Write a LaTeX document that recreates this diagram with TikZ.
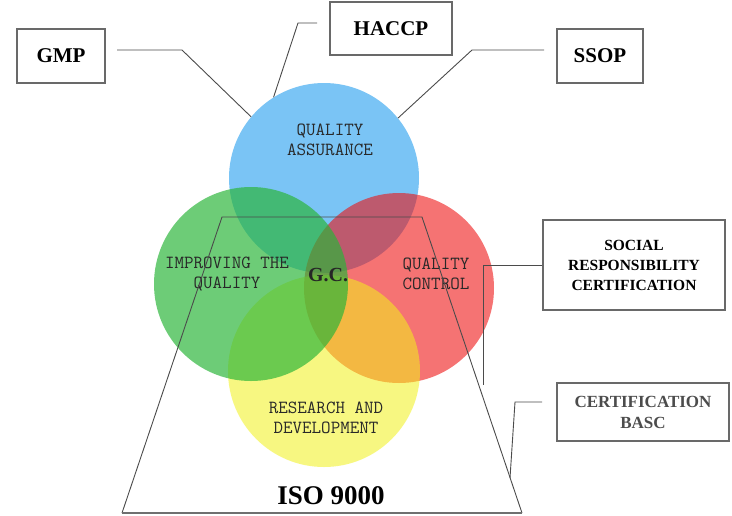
\documentclass[tikz,border=0pt]{standalone}
\usepackage{fontspec}
\setmainfont{Liberation Serif}
\newfontfamily\monofam{Latin Modern Mono}
\definecolor{cblue}{RGB}{122,196,245}
\definecolor{cred}{RGB}{238,14,14}
\definecolor{cyellow}{RGB}{242,242,27}
\definecolor{cgreen}{RGB}{41,181,56}
\definecolor{linegray}{RGB}{75,75,75}
\definecolor{boxgray}{RGB}{105,105,105}
\definecolor{labgray}{RGB}{40,40,40}
\tikzset{
  venn/.style={circle, inner sep=0pt, draw=none},
  box/.style={draw=boxgray, line width=1.2pt, inner sep=0pt, align=center, font=\bfseries},
  conn/.style={draw=linegray, line width=0.9pt},
  trap/.style={draw=linegray, line width=0.9pt},
  vlabel/.style={font=\monofam\fontsize{18.5}{20}\selectfont, text=labgray, align=center, inner sep=0pt},
}
\begin{document}
\begin{tikzpicture}[x=1pt,y=-1pt]
\useasboundingbox (0,0) rectangle (732,515);
\fill[white] (0,0) rectangle (732,515);
% circles
\node[venn, minimum size=190pt, fill=cblue] (qa) at (324,178) {};
\node[venn, minimum size=190pt, fill=cred, fill opacity=0.58] (qc) at (399,288) {};
\node[venn, minimum size=192pt, fill=cyellow, fill opacity=0.55] (rd) at (324,371) {};
\node[venn, minimum size=194pt, fill=cgreen, fill opacity=0.68] (iq) at (251,284) {};
% labels
\node[vlabel] (qal) at (330,140) {QUALITY\\ASSURANCE};
\node[vlabel] (iql) at (227,274) {IMPROVING THE\\QUALITY};
\node[vlabel] (qcl) at (436,274) {QUALITY\\CONTROL};
\node[vlabel] (rdl) at (326,418) {RESEARCH AND\\DEVELOPMENT};
\node[font=\bfseries\fontsize{20}{22}\selectfont, text=black!85, inner sep=0pt] (gc) at (328,275) {G.C.};
% trapezoid
\coordinate (t1) at (222,217);
\coordinate (t2) at (422,217);
\coordinate (t3) at (522,513);
\coordinate (t4) at (122,513);
\draw[trap] (t4) -- (t1) -- (t2) -- (t3);
\draw[draw=linegray!80, line width=1.6pt] (t4) -- (t3);
\node[font=\bfseries\fontsize{27}{30}\selectfont, inner sep=0pt] (iso) at (331,496) {ISO 9000};
% boxes
\node[box, minimum width=88pt, minimum height=54pt, font=\bfseries\fontsize{21}{24}\selectfont] (gmp) at (61,56) {GMP};
\node[box, minimum width=122pt, minimum height=53pt, font=\bfseries\fontsize{21}{24}\selectfont] (haccp) at (391,28.5) {HACCP};
\node[box, minimum width=86pt, minimum height=54pt, font=\bfseries\fontsize{21}{24}\selectfont] (ssop) at (600,56) {SSOP};
\node[box, minimum width=182pt, minimum height=90pt, font=\bfseries\fontsize{15.5}{20}\selectfont] (src) at (634,265) {SOCIAL\\RESPONSIBILITY\\CERTIFICATION};
\node[box, minimum width=172pt, minimum height=58pt, font=\bfseries\fontsize{17}{21}\selectfont, text=black!70] (basc) at (643,412) {CERTIFICATION\\BASC};
% connectors
\coordinate (g0) at (117,50);
\draw[conn] (g0) -- (182,50) -- (qa.140);
\coordinate (h0) at (317,23);
\draw[conn] (h0) -- (298,23) -- (qa.122);
\coordinate (s0) at (544,50);
\draw[conn] (s0) -- (472,50) -- (qa.39);
\coordinate (r1) at (483,385);
\draw[conn] (src.west) -| (r1);
\coordinate (b0) at (542,402);
\coordinate (b1) at (510,478);
\draw[conn] (b0) -- (515,402) -- (b1);
\end{tikzpicture}
\end{document}
